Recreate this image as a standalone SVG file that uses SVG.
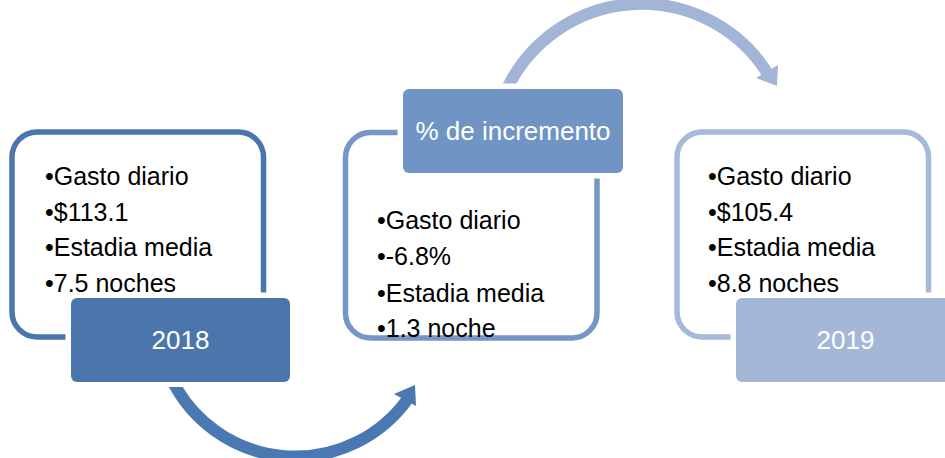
<svg xmlns="http://www.w3.org/2000/svg" width="945" height="458" viewBox="0 0 945 458">
<style>
.frame{fill:#fff;stroke-width:5.5}
.halo{fill:#fff}
.lbl{font-family:"Liberation Sans",Arial,sans-serif;font-size:26px;fill:#fff;text-anchor:middle}
.txt{font-family:"Liberation Sans",Arial,sans-serif;font-size:25px;fill:#000}
</style>
<defs>
<clipPath id="cb"><rect x="0" y="387" width="945" height="71"/></clipPath>
<clipPath id="ct"><rect x="0" y="0" width="945" height="83.5"/></clipPath>
</defs>
<g id="node-2018">
<rect class="frame" x="12" y="132" width="251.5" height="205" rx="25" stroke="#4A76AC"/>
<text class="txt" x="45" y="185">•Gasto diario</text>
<text class="txt" x="45" y="220.5">•$113.1</text>
<text class="txt" x="45" y="256">•Estadia media</text>
<text class="txt" x="45" y="291.5">•7.5 noches</text>
<rect class="halo" x="65.5" y="292.5" width="230" height="95" rx="9"/>
<rect x="71" y="298" width="219" height="84" rx="6" fill="#4A76AC"/>
<text class="lbl" x="180.5" y="349">2018</text>
</g>
<g id="node-incremento">
<rect class="frame" x="345.5" y="132.5" width="251.5" height="205.5" rx="25" stroke="#7596C6"/>
<rect class="halo" x="397.5" y="83.5" width="231" height="95" rx="9"/>
<rect x="403" y="89" width="220" height="84" rx="6" fill="#7094C4"/>
<text class="lbl" x="513" y="140">% de incremento</text>
<text class="txt" x="377" y="229">•Gasto diario</text>
<text class="txt" x="377" y="265">•-6.8%</text>
<text class="txt" x="377" y="301.5">•Estadia media</text>
<text class="txt" x="377" y="337">•1.3 noche</text>
</g>
<g id="node-2019">
<rect class="frame" x="677" y="132" width="251.5" height="205" rx="25" stroke="#A6B9D9"/>
<text class="txt" x="708" y="185">•Gasto diario</text>
<text class="txt" x="708" y="220.5">•$105.4</text>
<text class="txt" x="708" y="256">•Estadia media</text>
<text class="txt" x="708" y="291.5">•8.8 noches</text>
<rect class="halo" x="730.5" y="292.5" width="230" height="95" rx="9"/>
<rect x="736" y="298" width="219" height="84" rx="6" fill="#A4B7D7"/>
<text class="lbl" x="845.5" y="349">2019</text>
</g>
<g id="connectors">
<path d="M172.5,381 A138,138 0 0 0 407,400" fill="none" stroke="#4A78B3" stroke-width="12" clip-path="url(#cb)"/>
<polygon points="415,385 394,394 416,406" fill="#4A78B3"/>
<path d="M506,91 A149,149 0 0 1 767,72.5" fill="none" stroke="#A3B5D6" stroke-width="12" clip-path="url(#ct)"/>
<polygon points="777,86 756,78 778,65" fill="#A3B5D6"/>
</g>
</svg>
